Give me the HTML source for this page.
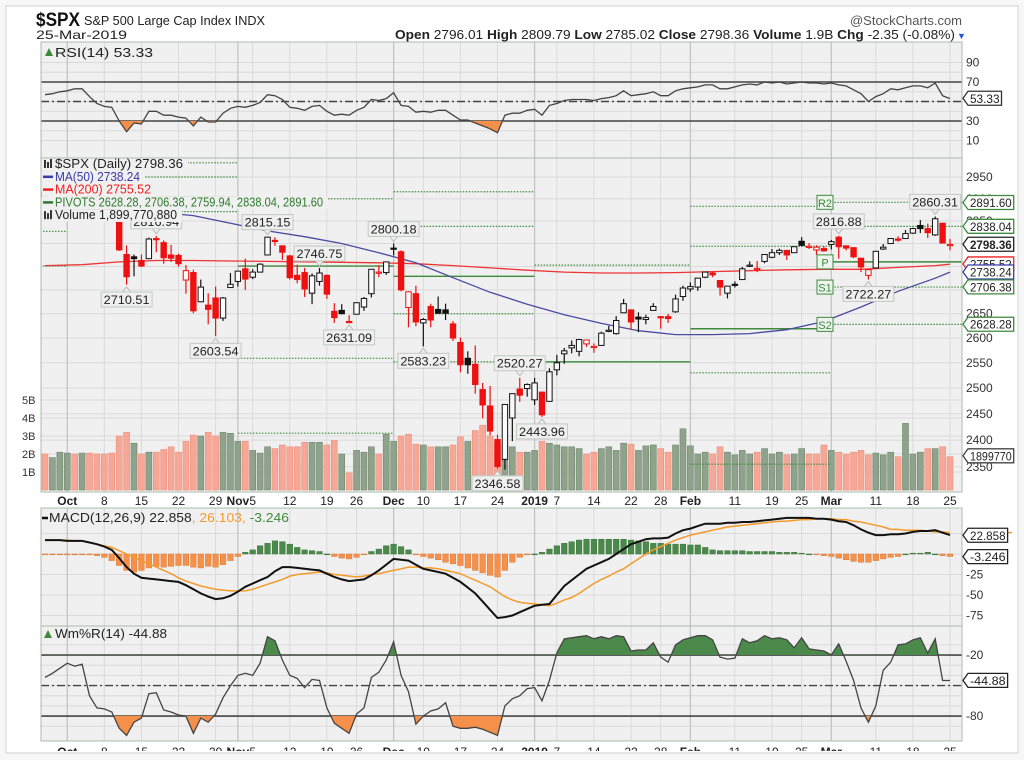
<!DOCTYPE html>
<html><head><meta charset="utf-8"><style>
html,body{margin:0;padding:0;background:#fff;width:1024px;height:760px;overflow:hidden}
svg{display:block}
text{font-family:"Liberation Sans",Arial,sans-serif}
</style></head><body>
<svg id="chart" width="1024" height="760" viewBox="0 0 1024 760" xmlns="http://www.w3.org/2000/svg">
<defs>
<clipPath id="cpRsi"><rect x="41" y="42" width="921" height="116"/></clipPath>
<clipPath id="cpPrice"><rect x="41" y="158" width="921" height="334"/></clipPath>
<clipPath id="cpMacd"><rect x="41" y="508" width="921" height="118"/></clipPath>
<clipPath id="cpWm"><rect x="41" y="626" width="921" height="115"/></clipPath>
<clipPath id="cpRsiLow"><rect x="41" y="121" width="921" height="40"/></clipPath>
<clipPath id="cpRsiHigh"><rect x="41" y="40" width="921" height="42"/></clipPath>
<clipPath id="cpWmHigh"><rect x="41" y="626" width="921" height="29.3"/></clipPath>
<clipPath id="cpWmLow"><rect x="41" y="716" width="921" height="30"/></clipPath>
<clipPath id="cpCard"><rect x="6" y="6" width="1012" height="745"/></clipPath>
</defs>
<rect x="0" y="0" width="1024" height="760" fill="#f7f7f7"/>
<rect x="6" y="6" width="1012" height="747" fill="#fff" stroke="#d0d0d0"/>
<g id="root" clip-path="url(#cpCard)"></g>
</svg>
<script>
// ---------- DATA ----------
const dates = ["9/26","9/27","9/28",
"10/1","10/2","10/3","10/4","10/5","10/8","10/9","10/10","10/11","10/12","10/15","10/16","10/17","10/18","10/19","10/22","10/23","10/24","10/25","10/26","10/29","10/30","10/31",
"11/1","11/2","11/5","11/6","11/7","11/8","11/9","11/12","11/13","11/14","11/15","11/16","11/19","11/20","11/21","11/23","11/26","11/27","11/28","11/29","11/30",
"12/3","12/4","12/6","12/7","12/10","12/11","12/12","12/13","12/14","12/17","12/18","12/19","12/20","12/21","12/24","12/26","12/27","12/28","12/31",
"1/2","1/3","1/4","1/7","1/8","1/9","1/10","1/11","1/14","1/15","1/16","1/17","1/18","1/22","1/23","1/24","1/25","1/28","1/29","1/30","1/31",
"2/1","2/4","2/5","2/6","2/7","2/8","2/11","2/12","2/13","2/14","2/15","2/19","2/20","2/21","2/22","2/25","2/26","2/27","2/28",
"3/1","3/4","3/5","3/6","3/7","3/8","3/11","3/12","3/13","3/14","3/15","3/18","3/19","3/20","3/21","3/22","3/25"];
const openP = [2916,2911,2910,2927,2923,2931,2919,2902,2877,2883,2873,2776,2771,2763,2767,2811,2802,2775,2774,2721,2737,2675,2668,2683,2641,2705,
2718,2745,2727,2738,2775,2807,2795,2773,2731,2737,2693,2718,2731,2655,2657,2634,2649,2664,2692,2736,2737,
2790,2782,2663,2692,2631,2665,2659,2658,2629,2591,2559,2547,2497,2465,2401,2364,2442,2498,2499,
2477,2492,2474,2536,2568,2580,2573,2588,2581,2585,2614,2609,2652,2658,2643,2638,2657,2644,2644,2654,2686,
2702,2706,2727,2736,2720,2693,2712,2722,2751,2744,2761,2770,2780,2785,2780,2805,2793,2786,2789,
2798,2814,2795,2791,2768,2731,2747,2788,2800,2810,2811,2823,2840,2833,2819,2845,2796];
const highP = [2931,2927,2920,2937,2932,2940,2920,2910,2894,2894,2874,2796,2776,2776,2813,2817,2807,2797,2778,2753,2743,2722,2693,2707,2685,2736,
2741,2767,2744,2757,2815,2814,2795,2775,2754,2747,2735,2747,2733,2672,2670,2647,2674,2685,2744,2753,2760,
2800,2785,2697,2709,2641,2671,2686,2671,2635,2601,2573,2585,2510,2504,2410,2468,2489,2520,2509,
2520,2493,2539,2566,2580,2595,2598,2596,2589,2613,2625,2645,2681,2659,2653,2648,2672,2645,2650,2690,2709,
2716,2724,2738,2739,2720,2708,2718,2749,2761,2762,2776,2788,2789,2785,2794,2814,2801,2796,2794,
2808,2817,2796,2791,2768,2744,2784,2799,2812,2816,2830,2835,2852,2844,2860,2846,2810];
const lowP = [2903,2909,2907,2917,2915,2921,2889,2874,2862,2874,2784,2711,2729,2749,2767,2781,2756,2760,2750,2692,2651,2674,2628,2604,2635,2705,
2707,2700,2723,2737,2775,2795,2764,2722,2714,2685,2670,2709,2681,2631,2649,2631,2649,2656,2684,2727,2732,
2774,2697,2622,2624,2583,2622,2650,2637,2594,2531,2528,2489,2441,2409,2347,2345,2398,2473,2483,
2467,2444,2474,2525,2548,2569,2563,2582,2570,2585,2612,2607,2652,2617,2612,2628,2657,2619,2631,2652,2677,
2696,2698,2725,2727,2688,2682,2705,2722,2749,2738,2757,2768,2775,2764,2781,2794,2788,2775,2782,
2787,2767,2785,2768,2738,2722,2747,2786,2800,2804,2810,2821,2823,2812,2817,2800,2785];
const closeP = [2906,2914,2914,2925,2923,2926,2902,2886,2884,2880,2786,2728,2767,2751,2810,2809,2769,2768,2756,2741,2656,2706,2659,2641,2683,2712,
2740,2723,2738,2755,2814,2807,2781,2726,2722,2702,2730,2736,2691,2642,2650,2633,2673,2682,2744,2738,2760,
2790,2700,2696,2633,2638,2637,2651,2651,2600,2546,2546,2507,2467,2417,2351,2468,2489,2486,2507,
2510,2448,2532,2550,2574,2585,2597,2596,2583,2610,2616,2636,2671,2633,2639,2642,2665,2644,2640,2681,2704,
2707,2725,2738,2732,2706,2708,2710,2745,2753,2746,2776,2780,2785,2775,2793,2796,2794,2792,2784,
2804,2793,2790,2771,2749,2743,2783,2792,2811,2808,2822,2833,2833,2824,2855,2801,2798];
const volumeB = [2.0,1.8,2.1,2.05,2.0,2.05,2.05,2.0,2.0,2.05,3.0,3.2,2.6,2.0,2.1,2.1,2.25,2.4,2.1,2.7,3.05,3.0,3.2,3.0,3.2,3.15,
2.7,2.7,2.2,2.05,2.4,2.3,2.5,2.4,2.4,2.65,2.65,2.65,2.5,2.75,2.0,0.95,2.2,2.1,2.4,2.0,3.1,
2.7,3.0,3.1,2.55,2.5,2.4,2.4,2.4,2.5,2.95,2.7,3.3,3.6,3.0,2.6,2.5,2.4,2.1,2.1,
2.2,2.7,2.6,2.5,2.4,2.4,2.3,2.0,2.1,2.3,2.4,2.2,2.6,2.55,2.2,2.45,2.5,2.3,2.1,2.5,3.4,
2.45,2.0,2.1,2.0,2.4,2.1,1.95,2.2,2.0,2.1,2.3,2.0,2.1,1.95,2.0,2.3,2.0,2.0,2.5,
2.2,2.1,2.0,2.1,2.2,1.95,2.05,1.95,2.1,1.85,3.7,2.0,2.1,2.3,2.3,2.4,1.85];
const ma50Dates = ["9/26","10/3","10/10","10/17","10/24","10/31","11/7","11/14","11/21","11/29","12/7","12/14","12/21","12/31","1/8","1/15","1/23","1/30","2/6","2/13","2/21","2/28","3/7","3/14","3/21","3/25"];
const ma50 = [2878,2878,2875,2870,2862,2845,2828,2815,2800,2780,2758,2726,2695,2670,2648,2630,2615,2607,2607,2609,2617,2634,2664,2697,2725,2738];
const ma200 = [2752,2754,2760,2763,2763,2762,2761,2760,2759,2758,2756,2752,2747,2742,2738,2736,2736,2737,2739,2741,2743,2744,2744,2748,2752,2755];
const rsi = [57,58,60,61,63,63,55,48,45,44,30,19,28,27,40,40,36,36,34,33,25,34,29,29,38,43,
45,44,46,49,57,56,52,44,43,41,45,46,40,36,37,36,41,44,52,51,53,
59,46,45,39,40,39,41,41,36,31,31,28,25,22,18,36,38,38,41,
42,36,46,48,51,52,52,52,51,53,54,56,61,56,57,58,60,56,56,61,63,
64,65,67,67,63,63,65,67,68,67,70,69,70,68,69,70,69,69,68,
69,67,66,62,58,50,55,58,63,62,64,66,66,64,69,56,53];
const macdLine = [17,17,17,16,16,16,14,12,9,5,-5,-16,-24,-29,-30,-31,-32,-33,-34,-38,-43,-48,-52,-55,-54,-51,
-46,-40,-36,-32,-28,-21,-16,-16,-17,-18,-19,-20,-24,-28,-31,-33,-32,-31,-26,-20,-13,
-6,-7,-8,-13,-18,-20,-22,-24,-29,-34,-41,-48,-58,-68,-78,-77,-75,-71,-67,
-63,-62,-61,-50,-39,-32,-25,-18,-14,-10,-6,0,6,12,15,18,19,19,20,25,29,
31,34,37,37,37,38,38,39,39,40,41,42,43,44,44,44,44,43,43,
42,40,39,35,30,26,23,23,24,24,25,27,28,28,29,26,23];
const signalLine = [17,17,17,17,16,16,14,12,10,8,4,0,-4,-8,-12,-16,-20,-24,-29,-33,-36,-39,-41,-43,-44,-45,
-45,-45,-43,-40,-37,-34,-31,-27,-25,-24,-23,-22,-23,-25,-26,-27,-28,-27,-25,-24,-22,
-20,-18,-16,-16,-17,-17,-18,-20,-22,-24,-28,-32,-36,-40,-46,-52,-56,-59,-60,
-61,-62,-63,-60,-56,-53,-48,-42,-36,-31,-27,-22,-18,-12,-6,0,5,9,13,17,20,
23,25,27,29,31,33,34,35,36,37,38,39,40,40,41,42,42,43,43,
43,42,42,40,39,37,35,33,30,30,29,29,29,28,27,27,26];
const macdHist = [-1,-1,-1,-1,-1,-1,-1,-2,-4,-8,-14,-20,-22,-20,-17,-15,-16,-15,-14,-14,-16,-17,-15,-16,-13,-8,
-3,2,5,10,13,16,15,12,8,5,4,3,0,-3,-5,-6,-4,-1,3,6,10,
12,9,5,-1,-3,-5,-7,-10,-12,-14,-17,-20,-23,-26,-28,-20,-10,-4,-1,
0,2,6,10,13,15,17,18,18,18,18,18,18,17,16,15,13,13,12,12,12,
11,11,8,5,4,4,4,4,3,3,3,3,2,2,2,1,0,-1,-2,
-3,-5,-7,-9,-10,-10,-8,-6,-4,-3,0,1,1,2,0,-2,-3];
const willR = [-42,-38,-33,-28,-31,-29,-60,-72,-73,-76,-92,-99,-86,-82,-58,-57,-74,-76,-79,-80,-97,-82,-86,-78,-62,-50,
-40,-38,-40,-28,-2,-6,-25,-40,-43,-52,-44,-45,-72,-87,-92,-97,-78,-72,-42,-37,-25,
-7,-40,-56,-88,-80,-75,-73,-67,-90,-92,-92,-91,-93,-96,-99,-70,-63,-60,-53,
-52,-65,-45,-18,-4,-3,-2,-1,-4,-2,-4,-1,-2,-16,-15,-15,-8,-22,-27,-10,-5,
-3,-1,-1,-5,-22,-24,-23,-4,-8,-6,-1,-4,-3,-5,-13,-3,-14,-15,-16,
-20,-9,-26,-45,-72,-86,-70,-35,-27,-10,-9,-5,-3,-18,-4,-45,-45];
// monthly pivot sections
const pivotStart = ["9/26","10/1","11/1","12/3","1/2","2/1","3/1"];
const pivR2 = [null,2983,null,2916,null,2883,2892];
const pivR1 = [null,2950,2900,2838,2753,2794,2838];
const pivP  = [null,2904,2751,2729,2552,2619,2760];
const pivS1 = [2827,2871,2559,2650,null,2530,2706];
const pivS2 = [2751,null,2413,2552,null,2355,2628];
// price callouts
const calloutDates = ["10/11","10/17","10/29","11/7","11/16","11/23","12/3","12/10","12/24","12/28","1/3","3/4","3/8","3/21"];
const calloutValues = [2710.51,2816.94,2603.54,2815.15,2746.75,2631.09,2800.18,2583.23,2346.58,2520.27,2443.96,2816.88,2722.27,2860.31];
const calloutSide = ["below","above","below","above","above","below","above","below","below","above","below","above","below","above"];
// axes
const priceTicks = [2950,2900,2850,2800,2750,2700,2650,2600,2550,2500,2450,2400,2350];
const volTicks = [1,2,3,4,5];
const rsiTicks = [90,70,30,10];
const macdTicks = [-25,-50,-75];
const wmTicks = [-20,-80];
const xLabelDates = ["10/1","10/8","10/15","10/22","10/29","11/1","11/5","11/12","11/19","11/26","12/3","12/10","12/17","12/24","1/2","1/7","1/14","1/22","1/28","2/1","2/11","2/19","2/25","3/1","3/11","3/18","3/25"];
const xLabelText = ["Oct","8","15","22","29","Nov","5","12","19","26","Dec","10","17","24","2019","7","14","22","28","Feb","11","19","25","Mar","11","18","25"];

// ---------- SCALES ----------
const NS="http://www.w3.org/2000/svg";
const root=document.getElementById('root');
const L=41,R=962;
const n=dates.length;
const step=(950-45)/(n-1);
function xi(i){return 45+step*i;}
function xd(d){return xi(dates.indexOf(d));}
function yP(p){return 177+1275*Math.log(2950/p);}
function yV(v){return 490-v*18;}
function yR(v){return 101.5-(v-50)*0.975;}
function yM(v){return 554-v*0.82;}
function yW(v){return 634.7-v*1.017;}
function el(tag,attrs,parent){const e=document.createElementNS(NS,tag);for(const k in attrs)e.setAttribute(k,attrs[k]);(parent||root).appendChild(e);return e;}
function txt(s,attrs,parent){const t=el('text',attrs,parent);t.textContent=s;return t;}
function grp(clip){const g=el('g',clip?{'clip-path':'url(#'+clip+')'}:{});return g;}

const PANEL_BG="#f0f0f0", BORDER="#a9bca9", GRID="#dadada", MGRID="#c4c4c4";
const monthStarts=["10/1","11/1","12/3","1/2","2/1","3/1"];

function panel(name,y0,y1,hgrid){
  const r=el('rect',{x:L,y:y0,width:R-L,height:y1-y0,fill:PANEL_BG});
  
  
  hgrid.forEach(y=>el('line',{x1:L,x2:R,y1:y,y2:y,stroke:GRID,'stroke-width':1}));
  xLabelDates.forEach(d=>{const x=xd(d);const m=monthStarts.includes(d);
    el('line',{x1:x,x2:x,y1:y0,y2:y1,stroke:m?MGRID:GRID,'stroke-width':m?1.3:1});});
}
function border(y0,y1){el('rect',{x:L,y:y0,width:R-L,height:y1-y0,fill:'none',stroke:BORDER,'stroke-width':1});}
function rightBox(y,label,color,bold,name){
  const g=el('g',{});
  
  
  const w=Math.min(label.length*6.1+3,49);
  el('path',{d:`M${R+1},${y} L${R+6},${y-7} L${R+6+w},${y-7} L${R+6+w},${y+7} L${R+6},${y+7} Z`,fill:'#fff',stroke:color,'stroke-width':1.3},g);
  txt(label,{x:R+8,y:y+4.5,'font-size':12,fill:'#222','font-weight':bold?'bold':'normal',textLength:w-4,lengthAdjust:'spacingAndGlyphs'},g);
}
function linePath(vals,fy,xs){let d='';vals.forEach((v,i)=>{d+=(i?'L':'M')+(xs?xs[i]:xi(i)).toFixed(1)+','+fy(v).toFixed(1);});return d;}

// ---------- HEADER ----------
const hdr=el('g',{});


txt('$SPX',{x:36,y:26,'font-size':19,'font-weight':'bold',fill:'#111',textLength:44,lengthAdjust:'spacingAndGlyphs'},hdr);
txt('S&P 500 Large Cap Index INDX',{x:84,y:25,'font-size':12.5,fill:'#222',textLength:181,lengthAdjust:'spacingAndGlyphs'},hdr);
txt('@StockCharts.com',{x:850,y:25,'font-size':12.5,fill:'#555',textLength:112,lengthAdjust:'spacingAndGlyphs'},hdr);
txt('25-Mar-2019',{x:36,y:39,'font-size':12,fill:'#222',textLength:91,lengthAdjust:'spacingAndGlyphs'},hdr);
const q=txt('',{x:395,y:39,'font-size':12.5,fill:'#222',textLength:560,lengthAdjust:'spacingAndGlyphs'},hdr);
[['Open ',1],['2796.01  ',0],['High ',1],['2809.79  ',0],['Low ',1],['2785.02  ',0],['Close ',1],['2798.36  ',0],['Volume ',1],['1.9B  ',0],['Chg ',1],['-2.35 (-0.08%)',0]].forEach(p=>{const t=el('tspan',{'font-weight':p[1]?'bold':'normal'},q);t.textContent=p[0];});
txt('▼',{x:957,y:39,'font-size':9,fill:'#2255dd'},hdr);

// ---------- RSI PANEL ----------
panel('rsi-panel',42,158,[10,20,30,40,50,60,70,80,90].map(yR));
const gR=grp('cpRsi');
[70,30].forEach(v=>el('line',{x1:L,x2:R,y1:yR(v),y2:yR(v),stroke:'#444','stroke-width':1.6},gR));
el('line',{x1:L,x2:R,y1:yR(50),y2:yR(50),stroke:'#444','stroke-width':1.4,'stroke-dasharray':'8,3,2,3'},gR);
const rd=linePath(rsi,yR);
const rLow=el('path',{d:rd+`L${xi(n-1)},${yR(30)}L${xi(0)},${yR(30)}Z`,fill:'#f5904a','clip-path':'url(#cpRsiLow)'},gR);


const rHigh=el('path',{d:rd+`L${xi(n-1)},${yR(70)}L${xi(0)},${yR(70)}Z`,fill:'#3f8a3f','clip-path':'url(#cpRsiHigh)'},gR);


const rl=el('path',{d:rd,fill:'none',stroke:'#444','stroke-width':1.3},gR);


border(42,158);
el('path',{d:'M45,56 L49,48 L53,56 Z',fill:'#3c8a3c'});
const rt=txt('RSI(14) 53.33',{x:55,y:57,'font-size':12.5,fill:'#222',textLength:98,lengthAdjust:'spacingAndGlyphs'});


rsiTicks.forEach(v=>txt(String(v),{x:R+4,y:yR(v)+4,'font-size':12,fill:'#333'}));
rightBox(yR(53.33),'53.33','#333',false,'rsi-value-box');

// ---------- PRICE PANEL ----------
panel('price-panel',158,492,priceTicks.map(yP).concat(volTicks.map(yV)));
const gP=grp('cpPrice');
// volume
volumeB.forEach((v,i)=>{const up=i===0?closeP[i]>=openP[i]:closeP[i]>=closeP[i-1];
  const b=el('rect',{x:xi(i)-3,y:yV(v),width:6,height:yV(0)-yV(v),fill:up?'#8fa38c':'#f7a796',stroke:up?'#71876e':'#ec8f7e','stroke-width':0.6},gP);
  
  });
// pivots
const pivLevels=[pivR2,pivR1,pivP,pivS1,pivS2];
pivotStart.forEach((d,m)=>{const x1=xd(d)-(m===0?5:0);const x2=m<pivotStart.length-1?xd(pivotStart[m+1]):R;
  pivLevels.forEach((arr,k)=>{const v=arr[m];if(v===null)return;
    const ln=el('line',{x1:x1,x2:x2,y1:yP(v),y2:yP(v),stroke:'#3d8a3d','stroke-width':k===2?1.4:1.2,'stroke-dasharray':k===2?'none':'1.5,1.5'},gP);
    
    });});
// MAs
const ma50x=ma50Dates.map(xd);
const m200=el('path',{d:linePath(ma200,yP,ma50x),fill:'none',stroke:'#ee3333','stroke-width':1.3},gP);


const m50=el('path',{d:linePath(ma50,yP,ma50x),fill:'none',stroke:'#4a4aa0','stroke-width':1.3},gP);


// candles
closeP.forEach((c,i)=>{const o=openP[i],h=highP[i],l=lowP[i];
  const down=i===0?c<o:c<closeP[i-1];const col=down?'#ee1111':'#111';
  const g=el('g',{},gP);
  
  
  const x=xi(i);
  el('line',{x1:x,x2:x,y1:yP(h),y2:yP(l),stroke:col,'stroke-width':1.2},g);
  const yt=yP(Math.max(o,c)),yb=yP(Math.min(o,c));
  el('rect',{x:x-2.7,y:yt,width:5.4,height:Math.max(1.2,yb-yt),fill:c>o?'#fafafa':col,stroke:col,'stroke-width':1},g);});
// callouts
calloutDates.forEach((d,k)=>{const x=xd(d);const v=calloutValues[k];const s=String(v.toFixed(2));const w=s.length*6.7+4;
  const g=el('g',{},gP);
  
  
  const yy=yP(v);
  let by,py;
  if(calloutSide[k]==='above'){by=yy-22;py=by+15;el('path',{d:`M${x-4},${py} L${x},${yy-2} L${x+4},${py}`,fill:'#eee',stroke:'#bbb'},g);}
  else{by=yy+7;py=by;el('path',{d:`M${x-4},${py} L${x},${yy+2} L${x+4},${py}`,fill:'#eee',stroke:'#bbb'},g);}
  el('rect',{x:x-w/2,y:by,width:w,height:15,fill:'#efefef',stroke:'#c2c8c2'},g);
  txt(s,{x:x,y:by+12,'font-size':12,'text-anchor':'middle',fill:'#222',textLength:w-5,lengthAdjust:'spacingAndGlyphs'},g);});
// pivot tags
[['R2',pivR2],['P',pivP],['S1',pivS1],['S2',pivS2]].forEach(p=>{const v=p[1][6];const y=yP(v);
  const g=el('g',{},gP);
  
  
  el('rect',{x:817,y:y-7,width:16,height:14,fill:'#eef3ee',stroke:'#3d8a3d'},g);
  txt(p[0],{x:825,y:y+4.5,'font-size':11,'text-anchor':'middle',fill:'#3d8a3d'},g);});
// legend
const leg=[['$SPX (Daily) 2798.36','#222'],['MA(50) 2738.24','#3a3aa8'],['MA(200) 2755.52','#e22'],['PIVOTS 2628.28, 2706.38, 2759.94, 2838.04, 2891.60','#2e7a2e'],['Volume 1,899,770,880','#222']];
leg.forEach((t,k)=>{const y=168+k*12.8;const w=[128,85,96,268,122][k];
  const g=el('g',{});
  
  
  el('rect',{x:42,y:y-10,width:w+18,height:12.8,fill:PANEL_BG},g);
  if(k===0||k===4){el('rect',{x:44,y:y-8,width:2,height:8,fill:'#333'},g);el('rect',{x:47,y:y-6,width:2,height:6,fill:'#333'},g);el('rect',{x:50,y:y-9,width:2,height:9,fill:'#333'},g);}
  else el('line',{x1:43,x2:53,y1:y-4,y2:y-4,stroke:t[1],'stroke-width':2.5},g);
  txt(t[0],{x:55,y:y,'font-size':12.5,fill:t[1],textLength:w,lengthAdjust:'spacingAndGlyphs'},g);});
border(158,492);
priceTicks.forEach(v=>txt(String(v),{x:R+4,y:yP(v)+4,'font-size':12,fill:'#333'}));
volTicks.forEach(v=>txt(v+'B',{x:22,y:yV(v)+4,'font-size':11,fill:'#333'}));
rightBox(yP(2891.6),'2891.60','#3d8a3d',false,'r2-value-box');
rightBox(yP(2838.04),'2838.04','#3d8a3d',false,'r1-value-box');
rightBox(yP(2798.36),'2798.36','#222',true,'close-value-box');
rightBox(yP(2755.52),'2755.52','#e22',false,'ma200-value-box');
rightBox(yP(2738.24),'2738.24','#3a3aa8',false,'ma50-value-box');
rightBox(yP(2706.38),'2706.38','#3d8a3d',false,'s1-value-box');
rightBox(yP(2628.28),'2628.28','#3d8a3d',false,'s2-value-box');
rightBox(yV(1.9),'1899770','#444',false,'volume-value-box');

// ---------- X AXIS LABELS ----------
function xLabels(y,nameBase){xLabelDates.forEach((d,k)=>{const s=xLabelText[k];const bold=isNaN(+s)||s==='2019';
  const t=txt(s,{x:xd(d),y:y,'font-size':12,'text-anchor':'middle',fill:'#222','font-weight':bold?'bold':'normal'});
  
  });}
xLabels(505,'x-axis-label');

// ---------- MACD PANEL ----------
panel('macd-panel',508,626,[25,0,-25,-50,-75].map(yM));
const gM=grp('cpMacd');
macdHist.forEach((v,i)=>{const y0=yM(0),y1=yM(v);
  const b=el('rect',{x:xi(i)-2.8,y:Math.min(y0,y1),width:5.6,height:Math.max(0.8,Math.abs(y1-y0)),fill:v>=0?'#4c8a4c':'#f5914a',stroke:v>=0?'#3a723a':'#d97a38','stroke-width':0.5},gM);
  
  });
const sg=el('path',{d:linePath(signalLine,yM),fill:'none',stroke:'#f59a2a','stroke-width':1.5},gM);


const ml=el('path',{d:linePath(macdLine,yM),fill:'none',stroke:'#111','stroke-width':2},gM);


border(508,626);
const mt=txt('',{x:49,y:522,'font-size':12.5,fill:'#222',textLength:240,lengthAdjust:'spacingAndGlyphs'});


[['MACD(12,26,9) 22.858','#222'],[', 26.103,','#f59a2a'],[' -3.246','#3d8a3d']].forEach(p=>{const t=el('tspan',{fill:p[1]},mt);t.textContent=p[0];});
el('line',{x1:42,x2:48,y1:518,y2:518,stroke:'#111','stroke-width':2.5});
macdTicks.forEach(v=>txt(String(v),{x:R+4,y:yM(v)+4,'font-size':12,fill:'#333'}));
el('line',{x1:R+5,x2:1012,y1:yM(26.1),y2:yM(26.1),stroke:'#f59a2a','stroke-width':1.5});
rightBox(yM(22.858),'22.858','#222',false,'macd-value-box');
rightBox(yM(-3.246),'-3.246','#222',false,'histogram-value-box');

// ---------- WILLIAMS %R PANEL ----------
panel('williams-r-panel',626,741,[-10,-20,-30,-40,-50,-60,-70,-80,-90].map(yW));
const gW=grp('cpWm');
[-20,-80].forEach(v=>el('line',{x1:L,x2:R,y1:yW(v),y2:yW(v),stroke:'#444','stroke-width':1.6},gW));
el('line',{x1:L,x2:R,y1:yW(-50),y2:yW(-50),stroke:'#444','stroke-width':1.4,'stroke-dasharray':'8,3,2,3'},gW);
const wd=linePath(willR,yW);
const wH=el('path',{d:wd+`L${xi(n-1)},${yW(-20)}L${xi(0)},${yW(-20)}Z`,fill:'#4c8a4c','clip-path':'url(#cpWmHigh)'},gW);


const wL=el('path',{d:wd+`L${xi(n-1)},${yW(-80)}L${xi(0)},${yW(-80)}Z`,fill:'#f5904a','clip-path':'url(#cpWmLow)'},gW);


const wl=el('path',{d:wd,fill:'none',stroke:'#444','stroke-width':1.3},gW);


border(626,741);
el('path',{d:'M44,638 L48,630 L52,638 Z',fill:'#3c8a3c'});
const wt=txt('Wm%R(14) -44.88',{x:55,y:638,'font-size':12.5,fill:'#222',textLength:112,lengthAdjust:'spacingAndGlyphs'});


wmTicks.forEach(v=>txt(String(v),{x:R+4,y:yW(v)+4,'font-size':12,fill:'#333'}));
rightBox(yW(-44.88),'-44.88','#222',false,'williams-value-box');
xLabels(756,'bottom-x-axis-label');
</script>
</body></html>
